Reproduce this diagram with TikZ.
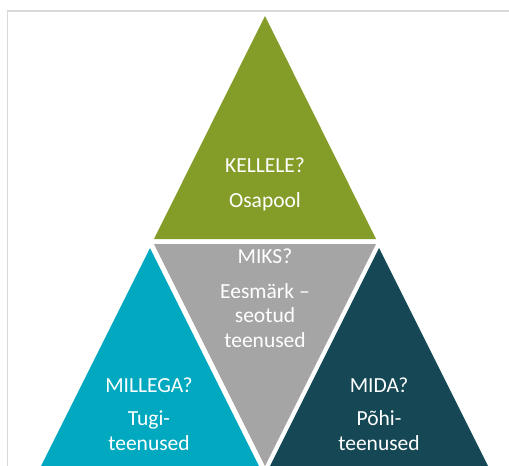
\documentclass[tikz,border=0pt]{standalone}
\usepackage{fontspec}
\setmainfont{Carlito}
\definecolor{tgreen}{RGB}{132,157,41}
\definecolor{tgray}{RGB}{165,165,165}
\definecolor{tcyan}{RGB}{0,169,191}
\definecolor{tdark}{RGB}{21,72,84}
\definecolor{frame}{RGB}{217,217,217}
\begin{document}
\begin{tikzpicture}[x=1pt,y=-1pt,
  lbl/.style={text=white,font=\fontsize{21.5}{25}\selectfont,anchor=base,inner sep=0pt}]
\useasboundingbox (0,0) rectangle (509,466);
\fill[white] (0,0) rectangle (509,466);
\draw[frame,line width=1.4pt] (7.3,466) -- (7.3,10.8) -- (509,10.8);
% triangles
\fill[tgreen] (265,16) -- (376,239) -- (154,239) -- cycle;
\fill[tgray] (154,244) -- (376,244) -- (265,466) -- cycle;
\fill[tcyan] (150,248) -- (259,466) -- (41,466) -- cycle;
\fill[tdark] (379,248) -- (488,466) -- (270,466) -- cycle;
% texts
\node[lbl] (t1) at (265,172.5) {KELLELE?};
\node[lbl] (t2) at (265,207) {Osapool};
\node[lbl] (g1) at (265,263) {MIKS?};
\node[lbl] (g2) at (265,298) {Eesmärk –};
\node[lbl] (g3) at (265,322.5) {seotud};
\node[lbl] (g4) at (265,347) {teenused};
\node[lbl] (c1) at (149,392) {MILLEGA?};
\node[lbl] (c2) at (149,425) {Tugi-};
\node[lbl] (c3) at (149,450) {teenused};
\node[lbl] (d1) at (379,392) {MIDA?};
\node[lbl] (d2) at (379,425) {Põhi-};
\node[lbl] (d3) at (379,450) {teenused};
\end{tikzpicture}
\end{document}
